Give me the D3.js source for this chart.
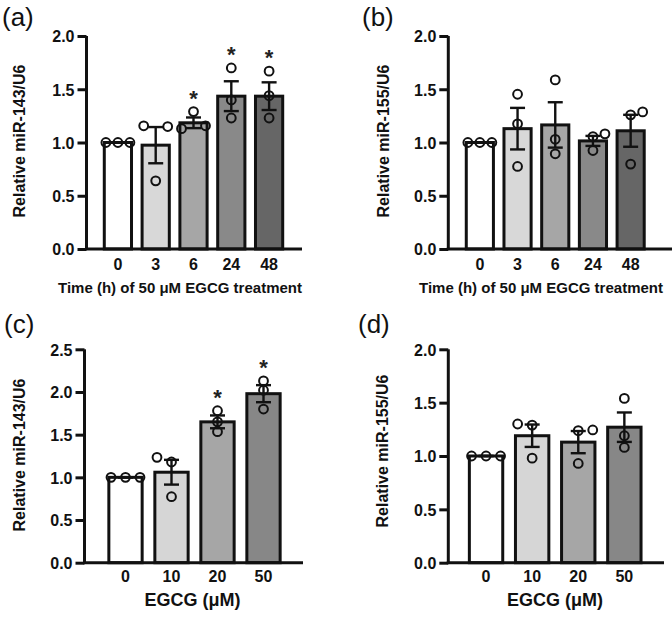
<!DOCTYPE html>
<html>
<head>
<meta charset="utf-8">
<script src="https://cdn.jsdelivr.net/npm/d3@7"></script>
<style>
  html, body { margin: 0; padding: 0; background: #fff; }
  svg { display: block; font-family: "Liberation Sans", Arial, sans-serif; }
</style>
</head>
<body>
<svg id="chart" width="672" height="617"></svg>
<script>
// ---------------- DATA ----------------
const timeLabels = ["0", "3", "6", "24", "48"];
const doseLabels = ["0", "10", "20", "50"];

// (a) miR-143, time course
const aMeans = [1.0, 0.975, 1.185, 1.435, 1.435];
const aSems = [0.0, 0.17, 0.05, 0.14, 0.13];
const aPoints = [[1.0, 1.0, 1.0], [1.157, 1.15, 0.64], [1.13, 1.29, 1.157], [1.70, 1.40, 1.23], [1.67, 1.44, 1.23]];
const aSlots = [[-1, 0, 1], [-1, 1, 0], [-1, 0, 1], [0, 0, 0], [0, 0, 0]];
const aSig = [false, false, true, true, true];

// (b) miR-155, time course
const bMeans = [1.0, 1.13, 1.165, 1.015, 1.11];
const bSems = [0.0, 0.195, 0.213, 0.047, 0.15];
const bPoints = [[1.0, 1.0, 1.0], [1.453, 1.175, 0.775], [1.5875, 1.03, 0.894], [1.056, 1.081, 0.925], [1.26, 1.2875, 0.797]];
const bSlots = [[-1, 0, 1], [0, 0, 0], [0, 0, 0], [0, 1, 0], [0, 1, 0]];
const bSig = [false, false, false, false, false];

// (c) miR-143, dose
const cMeans = [1.0, 1.06, 1.65, 1.98];
const cSems = [0.0, 0.145, 0.075, 0.1];
const cPoints = [[1.0, 1.0, 1.0], [1.234, 1.18, 0.773], [1.78, 1.65, 1.535], [2.13, 2.02, 1.80]];
const cSlots = [[-1, 0, 1], [-1, 0, 0], [0, 0, 0], [0, 0, 0]];
const cSig = [false, false, true, true];

// (d) miR-155, dose
const dMeans = [1.0, 1.19, 1.13, 1.27];
const dSems = [0.0, 0.105, 0.104, 0.138];
const dPoints = [[1.0, 1.0, 1.0], [1.30, 1.29, 0.98], [1.2375, 1.244, 0.93], [1.54, 1.19, 1.08]];
const dSlots = [[-1, 0, 1], [-1, 0, 0], [0, 1, 0], [0, 0, 0]];
const dSig = [false, false, false, false];

const yTicks02 = [0, 0.5, 1.0, 1.5, 2.0];
const yTicks025 = [0, 0.5, 1.0, 1.5, 2.0, 2.5];

const timeColors = ["#ffffff", "#d8d8d8", "#a6a6a6", "#898989", "#666666"];
const doseColors = ["#ffffff", "#d6d6d6", "#a6a6a6", "#878787"];

// ---------------- DRAW ----------------
const svg = d3.select("#chart");
const FONT = "'Liberation Sans', Arial, sans-serif";

function drawPanel(p) {
  const g = svg.append("g");
  const y = d3.scaleLinear().domain([0, p.yMax]).range([p.y0, p.yTop]);
  const x = d3.scaleBand().domain(p.cats).range(p.xRange)
    .paddingInner(p.padIn).paddingOuter(p.padIn / 2);
  const color = d3.scaleOrdinal().domain(p.cats).range(p.colors);
  const slotScale = d3.scaleLinear().domain([-1, 1]).range([-p.slotGap, p.slotGap]);

  const rows = p.cats.map((c, i) => ({
    cat: c, mean: p.means[i], sem: p.sems[i], pts: p.points[i], slots: p.slots[i], sig: p.sig[i]
  }));

  // bars
  g.selectAll("rect.bar").data(rows).join("rect")
    .attr("class", "bar")
    .attr("x", d => x(d.cat))
    .attr("y", d => y(d.mean))
    .attr("width", x.bandwidth())
    .attr("height", d => y(0) - y(d.mean))
    .attr("fill", d => color(d.cat))
    .attr("stroke", "#111")
    .attr("stroke-width", 3);

  // error bars
  const cx = d => x(d.cat) + x.bandwidth() / 2;
  const eb = g.selectAll("g.eb").data(rows).join("g").attr("class", "eb")
    .attr("stroke", "#111").attr("stroke-width", 2.4);
  eb.append("line")
    .attr("x1", cx).attr("x2", cx)
    .attr("y1", d => y(d.mean + d.sem)).attr("y2", d => y(d.mean - d.sem));
  eb.append("line")
    .attr("x1", d => cx(d) - p.cap / 2).attr("x2", d => cx(d) + p.cap / 2)
    .attr("y1", d => y(d.mean + d.sem)).attr("y2", d => y(d.mean + d.sem));
  eb.append("line")
    .attr("x1", d => cx(d) - p.cap / 2).attr("x2", d => cx(d) + p.cap / 2)
    .attr("y1", d => y(d.mean - d.sem)).attr("y2", d => y(d.mean - d.sem));

  // points
  const pts = rows.flatMap(d => d.pts.map((v, k) => ({ cat: d.cat, v, slot: d.slots[k] })));
  g.selectAll("circle.pt").data(pts).join("circle")
    .attr("class", "pt")
    .attr("cx", d => x(d.cat) + x.bandwidth() / 2 + slotScale(d.slot))
    .attr("cy", d => y(d.v))
    .attr("r", 4.4)
    .attr("fill", "none")
    .attr("stroke", "#111")
    .attr("stroke-width", 2);

  // significance stars
  g.selectAll("text.star").data(rows.filter(d => d.sig)).join("text")
    .attr("class", "star")
    .attr("x", cx)
    .attr("y", d => y(Math.max(d3.max(d.pts), d.mean + d.sem)) - 17 + 11)
    .attr("text-anchor", "middle")
    .attr("font-size", 22)
    .attr("font-weight", "bold")
    .attr("fill", "#222")
    .text("*");

  // y axis
  const yAxis = d3.axisLeft(y).tickValues(p.yTicks).tickFormat(d3.format(".1f"))
    .tickSize(9).tickPadding(3);
  const ya = g.append("g").attr("transform", `translate(${p.axisX},0)`).call(yAxis);
  ya.select(".domain").attr("d", `M0,${p.y0}V${p.yTop}`).attr("stroke", "#111").attr("stroke-width", 3);
  ya.selectAll(".tick line").attr("stroke", "#111").attr("stroke-width", 3);
  ya.selectAll(".tick text").attr("font-size", 16).attr("font-weight", "bold")
    .attr("fill", "#111").attr("font-family", FONT)
    .attr("dy", "0.36em");

  // x axis
  const xAxis = d3.axisBottom(x).tickSize(0).tickPadding(8);
  const xa = g.append("g").attr("transform", `translate(0,${p.y0})`).call(xAxis);
  xa.select(".domain").attr("d", `M${p.axisX - 1.5},0H${p.xAxisEnd}`).attr("stroke", "#111").attr("stroke-width", 3);
  xa.selectAll(".tick text").attr("font-size", 16).attr("font-weight", "bold")
    .attr("fill", "#111").attr("font-family", FONT)
    .attr("dy", null).attr("y", p.xTickBaseline - p.y0);

  // titles
  g.append("text")
    .attr("transform", `translate(${p.yTitleX},${p.yTitleY}) rotate(-90)`)
    .attr("text-anchor", "middle")
    .attr("font-size", 16).attr("font-weight", "bold").attr("fill", "#111")
    .text(p.yTitle);
  g.append("text")
    .attr("x", p.xTitleX).attr("y", p.xTitleY)
    .attr("text-anchor", "middle")
    .attr("font-size", p.xTitleSize).attr("font-weight", "bold").attr("fill", "#111")
    .text(p.xTitle);

  g.append("text")
    .attr("x", p.labelX).attr("y", p.labelY)
    .attr("font-size", 26).attr("fill", "#111")
    .text(p.label);
}

const timeTitle = "Time (h) of 50 \u03bcM EGCG treatment";
const doseTitle = "EGCG (\u03bcM)";

drawPanel({
  cats: timeLabels, means: aMeans, sems: aSems, points: aPoints, slots: aSlots, sig: aSig,
  colors: timeColors, yMax: 2.0, yTicks: yTicks02, y0: 249, yTop: 36,
  xRange: [99, 288], padIn: 0.28, axisX: 86.5, xAxisEnd: 302, slotGap: 12, cap: 15,
  xTickBaseline: 270, yTitle: "Relative miR-143/U6", yTitleX: 25, yTitleY: 141,
  xTitle: timeTitle, xTitleX: 180, xTitleY: 293, xTitleSize: 15,
  label: "(a)", labelX: 2, labelY: 26
});
drawPanel({
  cats: timeLabels, means: bMeans, sems: bSems, points: bPoints, slots: bSlots, sig: bSig,
  colors: timeColors, yMax: 2.0, yTicks: yTicks02, y0: 249, yTop: 36,
  xRange: [461, 649.5], padIn: 0.28, axisX: 448.3, xAxisEnd: 672, slotGap: 12, cap: 15,
  xTickBaseline: 270, yTitle: "Relative miR-155/U6", yTitleX: 389, yTitleY: 141,
  xTitle: timeTitle, xTitleX: 541, xTitleY: 293, xTitleSize: 15,
  label: "(b)", labelX: 362, labelY: 26
});
drawPanel({
  cats: doseLabels, means: cMeans, sems: cSems, points: cPoints, slots: cSlots, sig: cSig,
  colors: doseColors, yMax: 2.5, yTicks: yTicks025, y0: 562.7, yTop: 349.3,
  xRange: [102.5, 286.5], padIn: 0.276, axisX: 84.5, xAxisEnd: 303, slotGap: 14.5, cap: 15,
  xTickBaseline: 582, yTitle: "Relative miR-143/U6", yTitleX: 25, yTitleY: 455,
  xTitle: doseTitle, xTitleX: 192.5, xTitleY: 606, xTitleSize: 18,
  label: "(c)", labelX: 4, labelY: 333
});
drawPanel({
  cats: doseLabels, means: dMeans, sems: dSems, points: dPoints, slots: dSlots, sig: dSig,
  colors: doseColors, yMax: 2.0, yTicks: yTicks02, y0: 562.7, yTop: 349.3,
  xRange: [463, 647.4], padIn: 0.276, axisX: 448.3, xAxisEnd: 664, slotGap: 14.5, cap: 15,
  xTickBaseline: 582, yTitle: "Relative miR-155/U6", yTitleX: 388, yTitleY: 451,
  xTitle: doseTitle, xTitleX: 555, xTitleY: 606, xTitleSize: 18,
  label: "(d)", labelX: 358, labelY: 333
});
</script>
</body>
</html>
